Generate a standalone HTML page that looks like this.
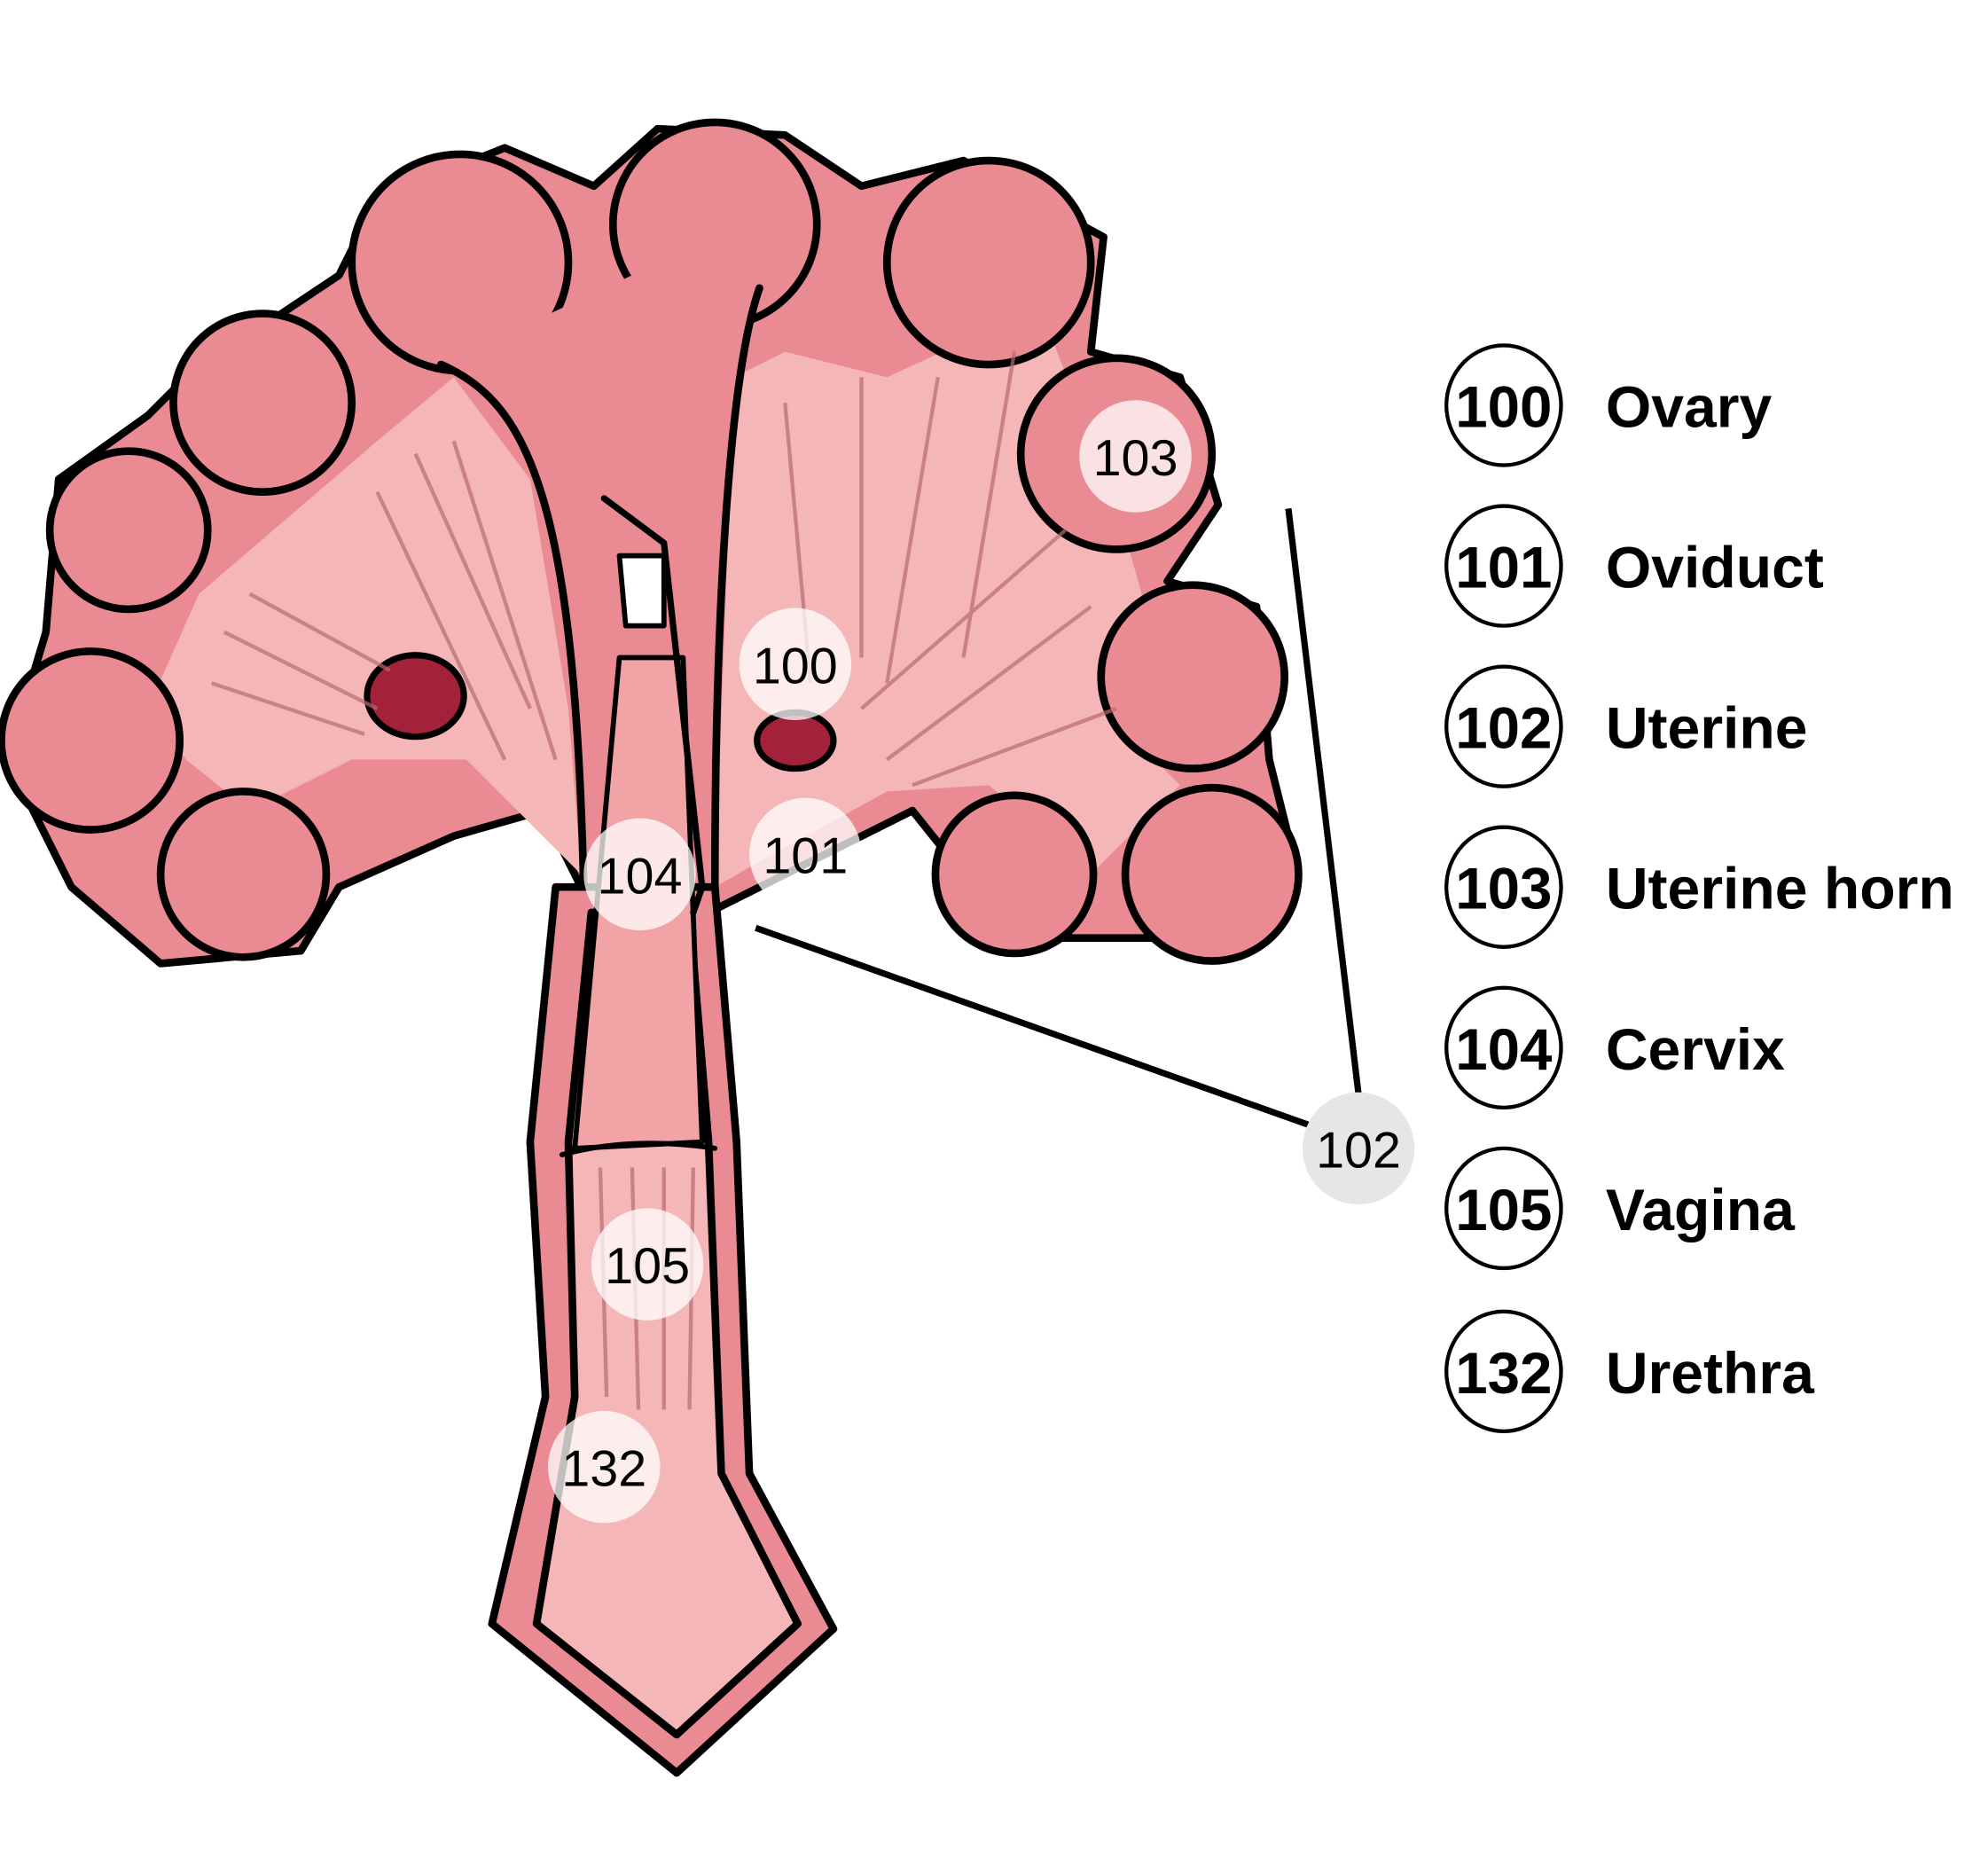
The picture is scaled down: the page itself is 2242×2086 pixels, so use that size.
<!DOCTYPE html>
<html><head><meta charset="utf-8"><style>
html,body{margin:0;padding:0;background:#fff}
svg{display:block}
text{font-family:"Liberation Sans",Arial,sans-serif}
</style></head><body>
<svg width="2242" height="2086" viewBox="0 0 1560 1451.5" xmlns="http://www.w3.org/2000/svg">
<g transform="translate(-4,-4)">
<g stroke="#000" stroke-width="6" stroke-linejoin="round" stroke-linecap="round">
<path d="M150,300 L270,220 L300,160 L400,120 L470,150 L520,105 L620,110 L680,150 L760,130 L870,190 L860,280 L930,300 L960,400 L920,460 L990,480 L1000,600 L1020,680 L940,740 L860,740 L800,740 L720,640 L600,700 L560,720 L540,700 L460,700 L430,640 L360,660 L270,700 L240,750 L130,760 L60,700 L10,600 L40,500 L50,380 L120,330 Z" fill="#ea8a92"/>
<path d="M120,560 L160,470 L300,350 L360,300 L420,380 L450,560 L460,690 L420,650 L370,600 L280,600 L200,640 L150,600 Z" fill="#f5b6b8" stroke="none"/>
<path d="M580,300 L620,280 L700,300 L820,245 L880,400 L900,470 L870,560 L930,620 L860,690 L780,620 L700,625 L600,680 L565,700 Z" fill="#f5b6b8" stroke="none"/>
<circle cx="365" cy="210" r="85" fill="#ea8a92"/>
<circle cx="565" cy="180" r="80" fill="#ea8a92"/>
<circle cx="780" cy="210" r="80" fill="#ea8a92"/>
<circle cx="210" cy="320" r="70" fill="#ea8a92"/>
<circle cx="105" cy="420" r="62" fill="#ea8a92"/>
<circle cx="75" cy="585" r="70" fill="#ea8a92"/>
<circle cx="195" cy="690" r="65" fill="#ea8a92"/>
<circle cx="880" cy="360" r="75" fill="#ea8a92"/>
<circle cx="940" cy="535" r="72" fill="#ea8a92"/>
<circle cx="955" cy="690" r="68" fill="#ea8a92"/>
<circle cx="800" cy="690" r="62" fill="#ea8a92"/>
<path d="M350,290 C420,320 460,380 465,700 L565,700 C565,500 570,300 600,230 L500,220 Z" fill="#ea8a92" stroke="none"/>
<path d="M350,290 C420,320 455,400 462,700" fill="none"/>
<path d="M600,230 C575,300 565,500 565,700" fill="none"/>
<path d="M440,700 L420,900 L432,1100 L390,1278 L535,1395 L658,1282 L592,1160 L582,900 L565,700 Z" fill="#ea8a92"/>
<path d="M468,720 L450,900 L455,1100 L425,1278 L535,1365 L630,1278 L570,1160 L560,900 L545,720 Z" fill="#f5b6b8"/>
<path d="M490,520 L540,520 L555,900 L455,905 Z" fill="#f2a3a6" stroke-width="4"/>
<path d="M445,910 Q500,895 565,905" fill="none" stroke-width="4"/>
<path d="M478,395 L525,430 L555,700 L548,720" fill="none" stroke-width="5"/>
<path d="M490,440 L525,440 L525,495 L495,495 Z" fill="#fff" stroke-width="4"/>
<ellipse cx="330" cy="550" rx="38" ry="32" fill="#a3223a" stroke-width="5"/>
<ellipse cx="628" cy="585" rx="30" ry="22" fill="#a3223a" stroke-width="5"/>
</g>
<g stroke="#b86a72" stroke-width="3" fill="none" opacity="0.7">
<path d="M180,500 L300,560 M170,540 L290,580 M200,470 L310,530 M330,360 L420,560 M360,350 L440,600 M300,390 L400,600"/>
<path d="M620,320 L640,540 M680,300 L680,520 M740,300 L700,540 M800,280 L760,520 M860,480 L700,600 M880,560 L720,620 M840,420 L680,560"/>
<path d="M475,920 L480,1100 M500,920 L505,1110 M525,920 L525,1110 M548,920 L545,1110"/>
</g>
<g stroke="#000" stroke-width="5">
<line x1="1015" y1="403" x2="1070" y2="862"/>
<line x1="597" y1="732" x2="1035" y2="888"/>
</g>
<g font-size="40" text-anchor="middle" fill="#000">
<circle cx="895" cy="362" r="44" fill="#fff" opacity="0.75"/><text x="895" y="377">103</text>
<circle cx="628" cy="525" r="44" fill="#fff" opacity="0.75"/><text x="628" y="540">100</text>
<circle cx="636" cy="674" r="44" fill="#fff" opacity="0.75"/><text x="636" y="689">101</text>
<circle cx="506" cy="690" r="44" fill="#fff" opacity="0.75"/><text x="506" y="705">104</text>
<circle cx="512" cy="996" r="44" fill="#fff" opacity="0.75"/><text x="512" y="1011">105</text>
<circle cx="478" cy="1155" r="44" fill="#fff" opacity="0.75"/><text x="478" y="1170">132</text>
<circle cx="1070" cy="905" r="44" fill="#e6e6e6"/><text x="1070" y="920">102</text>
</g>
<g font-weight="bold" font-size="46" fill="#000" transform="translate(-4,0)">
<g fill="none" stroke="#000" stroke-width="3">
<ellipse cx="1188" cy="322" rx="45" ry="47"/>
<ellipse cx="1188" cy="448" rx="45" ry="47"/>
<ellipse cx="1188" cy="574" rx="45" ry="47"/>
<ellipse cx="1188" cy="700" rx="45" ry="47"/>
<ellipse cx="1188" cy="826" rx="45" ry="47"/>
<ellipse cx="1188" cy="952" rx="45" ry="47"/>
<ellipse cx="1188" cy="1080" rx="45" ry="47"/>
</g>
<text x="1150" y="339" textLength="76" lengthAdjust="spacingAndGlyphs">100</text><text x="1268" y="339">Ovary</text>
<text x="1150" y="465" textLength="76" lengthAdjust="spacingAndGlyphs">101</text><text x="1268" y="465">Oviduct</text>
<text x="1150" y="591" textLength="76" lengthAdjust="spacingAndGlyphs">102</text><text x="1268" y="591">Uterine</text>
<text x="1150" y="717" textLength="76" lengthAdjust="spacingAndGlyphs">103</text><text x="1268" y="717">Uterine horn</text>
<text x="1150" y="843" textLength="76" lengthAdjust="spacingAndGlyphs">104</text><text x="1268" y="843">Cervix</text>
<text x="1150" y="969" textLength="76" lengthAdjust="spacingAndGlyphs">105</text><text x="1268" y="969">Vagina</text>
<text x="1150" y="1097" textLength="76" lengthAdjust="spacingAndGlyphs">132</text><text x="1268" y="1097">Urethra</text>
</g>
</g>
</svg>
</body></html>
